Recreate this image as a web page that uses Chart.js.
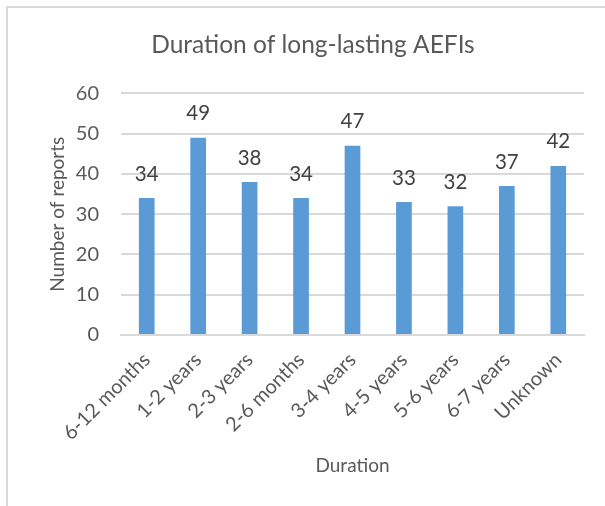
<!DOCTYPE html>
<html>
<head>
<meta charset="utf-8">
<script src="https://cdn.jsdelivr.net/npm/chart.js@4/dist/chart.umd.min.js"></script>
<style>
  html, body { margin: 0; padding: 0; background: #fff; overflow: hidden; }
  #frame {
    position: absolute; left: 6px; top: 6px; width: 700px; height: 600px;
    border-top: 2px solid #d9d9d9; border-left: 2px solid #d9d9d9;
  }
  #wrap { position: absolute; left: 0; top: 0; width: 605px; height: 506px; }
</style>
</head>
<body>
<div id="frame"></div>
<div id="wrap"><canvas id="myBarChart"></canvas></div>
<script>
// données du graphique
const durations = ["6-12 months", "1-2 years", "2-3 years", "2-6 months", "3-4 years",
  "4-5 years", "5-6 years", "6-7 years", "Unknown"];
const reports = [34, 49, 38, 34, 47, 33, 32, 37, 42];
const yTicks = [0, 10, 20, 30, 40, 50, 60];

// étiquettes de valeurs au-dessus des barres
const valueLabels = {
  id: "valueLabels",
  afterDatasetsDraw(chart) {
    const ctx = chart.ctx;
    const meta = chart.getDatasetMeta(0);
    ctx.save();
    ctx.font = "20.5px Lato";
    ctx.fillStyle = "#404040";
    ctx.textAlign = "center";
    ctx.textBaseline = "middle";
    meta.data.forEach((bar, i) => {
      ctx.fillText(String(reports[i]), bar.x, bar.y - 24);
    });
    ctx.restore();
  },
};

document.addEventListener("DOMContentLoaded", function () {
  const ctx = document.getElementById("myBarChart").getContext("2d");
  new Chart(ctx, {
    type: "bar",
    data: {
      labels: durations,
      datasets: [
        {
          label: "Number of reports",
          data: reports,
          backgroundColor: "#5b9bd5",
          borderWidth: 0,
          categoryPercentage: 1,
          barPercentage: 0.305,
        },
      ],
    },
    options: {
      responsive: true,
      maintainAspectRatio: false,
      animation: false,
      layout: { padding: { left: 42, right: 21, top: 0, bottom: 25 } },
      plugins: {
        legend: { display: false },
        tooltip: { enabled: false },
        title: {
          display: true,
          text: "Duration of long-lasting AEFIs",
          color: "#595959",
          font: { family: "Lato", size: 24.5, weight: "normal" },
          padding: { top: 30, bottom: 34 },
        },
      },
      scales: {
        x: {
          grid: { display: false, drawTicks: false },
          border: { color: "#d9d9d9", width: 2 },
          ticks: {
            color: "#595959",
            font: { family: "Lato", size: 20 },
            minRotation: 45,
            maxRotation: 45,
            autoSkip: false,
            padding: 13,
          },
          title: {
            display: true,
            text: "Duration",
            color: "#595959",
            font: { family: "Lato", size: 19 },
          },
          afterFit: (scale) => { scale.height = 146; },
        },
        y: {
          min: 0,
          max: 60,
          border: { display: false },
          grid: { color: "#d9d9d9", lineWidth: 2, drawTicks: false },
          afterBuildTicks: (scale) => { scale.ticks = yTicks.map((v) => ({ value: v })); },
          ticks: {
            color: "#595959",
            font: { family: "Lato", size: 20 },
            padding: 22,
          },
          title: {
            display: true,
            text: "Number of reports",
            color: "#595959",
            font: { family: "Lato", size: 19 },
          },
          afterFit: (scale) => { scale.width = 79; },
        },
      },
    },
    plugins: [valueLabels],
  });
});
</script>
</body>
</html>
